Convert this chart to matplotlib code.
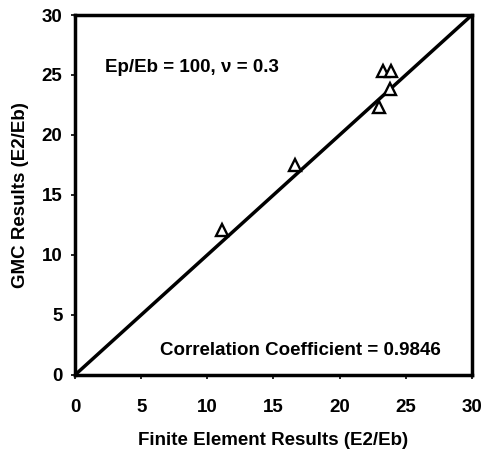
import matplotlib
matplotlib.use("Agg")
import matplotlib.pyplot as plt

plt.rcParams['font.family'] = ['Liberation Sans', 'DejaVu Sans']
plt.rcParams['font.weight'] = 'bold'

# finite element vs GMC (E2/Eb)
fe = [11.1, 16.6, 23.3, 23.9, 23.8, 23.0]
gmc = [12.1, 17.5, 25.3, 25.3, 23.8, 22.3]
ticks = [0, 5, 10, 15, 20, 25, 30]

fig = plt.figure(figsize=(4.84, 4.55), dpi=100)
ax = fig.add_axes([0.155, 0.176, 0.82, 0.791])

ax.plot([0, 30], [0, 30], color='black', lw=2.5)
ax.plot(fe, gmc, linestyle='none', marker='^', markersize=8,
        markerfacecolor='white', markeredgecolor='black', markeredgewidth=1.7)

ax.set_xlim(0, 30)
ax.set_ylim(0, 30)
ax.set_xticks(ticks)
ax.set_yticks(ticks)
ax.tick_params(direction='out', length=3, width=1.2, labelsize=13.5)
ax.tick_params(axis='x', pad=14)
ax.tick_params(axis='y', pad=6)
for lab in ax.get_xticklabels() + ax.get_yticklabels():
    lab.set_fontweight('bold')
for s in ax.spines.values():
    s.set_linewidth(2.5)

ax.set_xlabel('Finite Element Results (E2/Eb)', fontsize=13.5, fontweight='bold', labelpad=12)
ax.set_ylabel('GMC Results (E2/Eb)', fontsize=13.5, fontweight='bold', labelpad=9)

ax.text(2.3, 25.6, 'Ep/Eb = 100, \u03bd = 0.3', fontsize=13.5, fontweight='bold', va='center')
ax.text(6.4, 2.0, 'Correlation Coefficient = 0.9846', fontsize=13.5, fontweight='bold', va='center')

fig.savefig('out.png', dpi=100)
